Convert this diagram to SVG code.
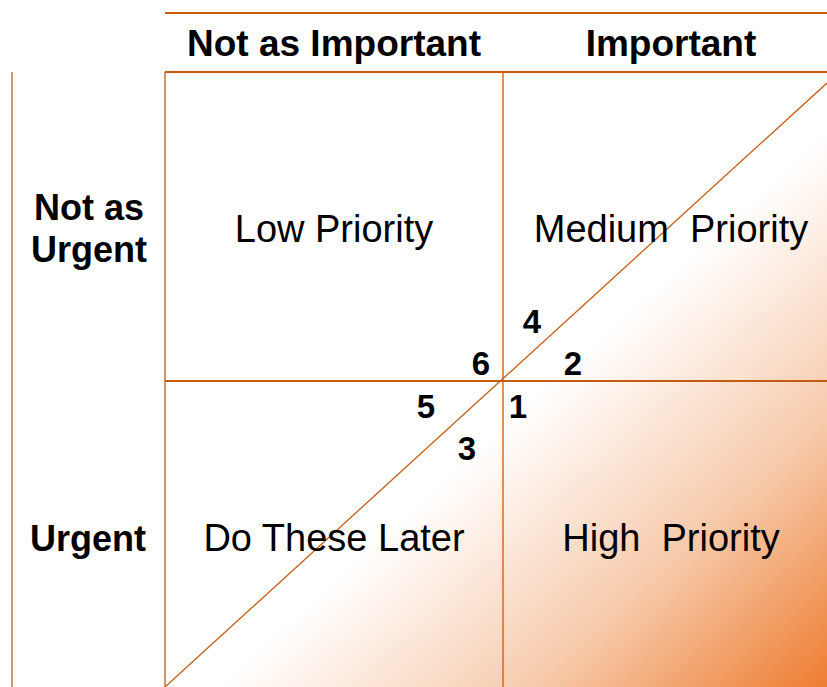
<svg xmlns="http://www.w3.org/2000/svg" width="827" height="687" viewBox="0 0 827 687">
  <style>
    .rule { stroke: #C55A11; fill: none; }
    .thick { stroke-width: 2.2; }
    .thin { stroke-width: 1.3; }
    .head { font-family: "Liberation Sans", Arial, sans-serif; font-weight: bold; font-size: 37px; fill: #000; text-anchor: middle; }
    .row { font-family: "Liberation Sans", Arial, sans-serif; font-weight: bold; font-size: 36px; fill: #000; text-anchor: middle; }
    .quad { font-family: "Liberation Sans", Arial, sans-serif; font-size: 38px; fill: #000; text-anchor: middle; white-space: pre; }
    .num { font-family: "Liberation Sans", Arial, sans-serif; font-weight: bold; font-size: 33px; fill: #000; text-anchor: middle; }
  </style>
  <defs>
    <!-- shading runs perpendicular to the diagonal, white at the line to orange at the far corner -->
    <linearGradient id="urgency" gradientUnits="userSpaceOnUse" x1="526" y1="357" x2="827" y2="687">
      <stop offset="0" stop-color="#FFFFFF"/>
      <stop offset="0.08" stop-color="#FFFFFF"/>
      <stop offset="0.55" stop-color="#F7CBAC"/>
      <stop offset="1" stop-color="#ED7D31"/>
    </linearGradient>
  </defs>

  <rect width="827" height="687" fill="#FFFFFF"/>

  <!-- shaded triangle under the diagonal -->
  <polygon points="165,687 827,83 827,687" fill="url(#urgency)"/>

  <g id="connectors">
    <line class="rule thick" x1="165" y1="13" x2="827" y2="13"/>
    <line class="rule thick" x1="165" y1="72" x2="827" y2="72"/>
    <line class="rule thin" x1="12" y1="72" x2="12" y2="687"/>
    <line class="rule thin" x1="165" y1="72" x2="165" y2="687"/>
    <line class="rule thin" x1="503" y1="72" x2="503" y2="687"/>
    <line class="rule thick" x1="165" y1="381" x2="827" y2="381"/>
    <line class="rule thin" x1="165" y1="687" x2="827" y2="83"/>
  </g>

  <g id="col-not-important">
    <text class="head" x="334" y="56">Not as Important</text>
  </g>
  <g id="col-important">
    <text class="head" x="671" y="56">Important</text>
  </g>

  <g id="row-not-urgent">
    <text class="row" x="89" y="220">Not as</text>
    <text class="row" x="89" y="262">Urgent</text>
  </g>
  <g id="row-urgent">
    <text class="row" x="88" y="551">Urgent</text>
  </g>

  <g id="low-priority">
    <text class="quad" x="334" y="242">Low Priority</text>
  </g>
  <g id="medium-priority">
    <text class="quad" x="671" y="242">Medium  Priority</text>
  </g>
  <g id="do-later">
    <text class="quad" x="334" y="551">Do These Later</text>
  </g>
  <g id="high-priority">
    <text class="quad" x="671" y="551">High  Priority</text>
  </g>

  <g id="steps">
    <text class="num" x="532" y="333">4</text>
    <text class="num" x="481" y="375">6</text>
    <text class="num" x="573" y="375">2</text>
    <text class="num" x="426" y="418">5</text>
    <text class="num" x="518" y="418">1</text>
    <text class="num" x="467" y="460">3</text>
  </g>
</svg>
